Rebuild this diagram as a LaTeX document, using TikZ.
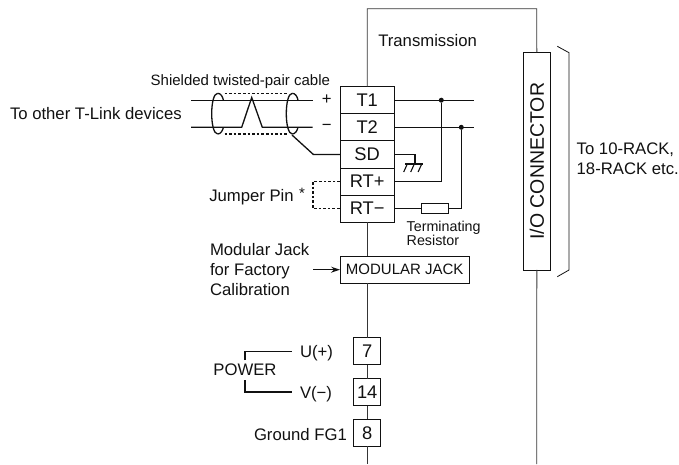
\documentclass[tikz,border=0pt]{standalone}
\usepackage{fontspec}
\setmainfont{Liberation Sans}
\usetikzlibrary{arrows.meta}
\newcommand{\fs}[2]{\fontsize{#1}{#2}\selectfont}
\definecolor{ink}{HTML}{111111}
\tikzset{
  lab/.style={inner sep=0pt,outer sep=0pt,text=ink,font=\fs{16.7}{20}},
  smalllab/.style={lab,font=\fs{14.3}{14}},
  cablelab/.style={lab,font=\fs{15}{18}},
  term/.style={draw=ink,fill=white,line width=0.9pt,inner sep=0pt,outer sep=0pt,
    minimum width=54.3pt,minimum height=27.1pt,text=ink,font=\fs{18.3}{20}},
  pin/.style={term,minimum width=27pt,minimum height=27pt},
  frameline/.style={draw=ink!85,line width=0.9pt},
  wire/.style={draw=ink,line width=1.3pt},
  jumper/.style={draw=ink,line width=1.1pt,dash pattern=on 2.6pt off 2pt},
  junction/.style={circle,fill=ink,inner sep=0pt,minimum size=5pt},
}
\begin{document}
\begin{tikzpicture}[x=1pt,y=-1pt]
\useasboundingbox (0,0) rectangle (679,464);
% corner points
\coordinate (ftl) at (367.2,8.7);
\coordinate (ftr) at (536.7,8.7);
\coordinate (fbl) at (367.2,464);
\coordinate (fbr) at (536.7,464);
% terminal block
\node[term] (t1) at (367.2,100.2) {T1};
\node[term] (t2) at (367.2,127.3) {T2};
\node[term] (sd) at (367.2,154.4) {SD};
\node[term] (rtp) at (367.2,181.5) {RT+};
\node[term] (rtm) at (367.2,208.6) {RT−};
\node[term,minimum width=129.3pt,minimum height=26.7pt,font=\fs{15}{18}] (jack) at (404.7,269.7) {MODULAR JACK};
\node[pin] (seven) at (367.2,351.2) {7};
\node[pin] (fourteen) at (367.2,392.1) {14};
\node[pin] (eight) at (367.2,432.7) {8};
\node[term,minimum width=27pt,minimum height=217.5pt,font=\fs{19.5}{22}] (io) at (536.8,161.2) {\rotatebox{90}{I/O CONNECTOR}};
% frame
\draw[frameline] (t1.north) -- (ftl) -- (ftr) -- (io.north);
\draw[frameline] (io.south) -- (fbr);
\draw[frameline] (rtm.south) -- (rtm.south |- jack.north);
\draw[frameline] (rtm.south |- jack.south) -- (seven.north);
\draw[frameline] (seven.south) -- (fourteen.north);
\draw[frameline] (fourteen.south) -- (eight.north);
\draw[frameline] (eight.south) -- (fbl);
% bracket
\coordinate (ba) at (557.3,46.3);
\coordinate (bb) at (569,52.7);
\coordinate (bc) at (569,270);
\coordinate (bd) at (557.3,276.7);
\draw[draw=ink,line width=0.8pt] (ba) -- (bb) -- (bc) -- (bd);
% labels
\node[lab,anchor=west] (trans) at (378.3,40.3) {Transmission};
\node[cablelab,anchor=west] (cable) at (150.7,81.5) {Shielded twisted-pair cable};
\node[lab,anchor=west] (other) at (10,113.5) {To other T-Link devices};
\node[lab,anchor=west] (jp) at (209.3,196.7) {Jumper Pin};
\node[lab,font=\fs{15}{16}] (star) at (302,193) {*};
\node[smalllab,anchor=north west,align=left] (res) at (406.7,221.5) {Terminating\\Resistor};
\node[lab,anchor=west,align=left] (mj) at (210,269.5) {Modular Jack\\for Factory\\Calibration};
\node[lab,anchor=west,align=left] (rack) at (576.7,158.5) {To 10-RACK,\\18-RACK etc.};
\node[lab,anchor=west] (u) at (300,353) {U(+)};
\node[lab,anchor=west] (v) at (300,394) {V(−)};
\node[lab,anchor=west] (gnd) at (254,434.3) {Ground FG1};
\node[lab,anchor=center] (power) at (245,370) {POWER};
\node[lab] (plus) at (326.7,100) {+};
\node[lab] (minus) at (326.7,127) {−};
% cable wires
\coordinate (wl1) at (191,100.2);
\coordinate (wr1) at (312.7,100.2);
\coordinate (wl2) at (191,127.3);
\coordinate (wr2) at (312.7,127.3);
\coordinate (tw1) at (241.7,127.3);
\coordinate (tw2) at (251.7,97.5);
\coordinate (tw3) at (262.3,127.3);
\draw[wire] (wl1) -- (wr1);
\draw[wire] (wl2) -- (tw1) -- (tw2) -- (tw3) -- (wr2);
\foreach \cx in {217.7,292.3}{
  \draw[wire] (\cx,93.3) .. controls (\cx-8,93.3) and (\cx-8,134) .. (\cx,134);
  \draw[wire] (\cx,93.3) .. controls (\cx+3,93.3) and (\cx+5,96.5) .. (\cx+5.7,100.2);
  \draw[wire] (\cx,134) .. controls (\cx+3,134) and (\cx+5,130.5) .. (\cx+5.7,127.3);
}
\coordinate (sha) at (224.5,93.3);
\coordinate (shb) at (287.5,93.3);
\coordinate (shc) at (224.5,134);
\coordinate (shd) at (287.5,134);
\draw[jumper] (sha) -- (shb);
\draw[jumper] (shc) -- (shd);
% shield drain
\coordinate (dr0) at (292,135);
\coordinate (dr1) at (313.3,154.4);
\draw[wire] (dr0) -- (dr1) -- (sd.west);
% right side wiring
\coordinate (e1) at (473.7,100.2);
\coordinate (e2) at (473.7,127.3);
\node[junction] (j1) at (441.3,100.2) {};
\node[junction] (j2) at (461.3,127.3) {};
\draw[wire] (t1.east) -- (e1);
\draw[wire] (t2.east) -- (e2);
\draw[wire] (rtp.east) -| (j1);
\node[draw=ink,fill=white,line width=1.2pt,inner sep=0pt,minimum width=26.6pt,minimum height=9.5pt] (r) at (435,208.6) {};
\draw[wire] (rtm.east) -- (r.west);
\draw[wire] (r.east) -| (j2);
% ground
\coordinate (g0) at (415,164);
\coordinate (gl) at (405,164);
\coordinate (gr) at (422.7,164);
\draw[wire] (sd.east) -| (g0);
\draw[wire] (gl) -- (gr);
\foreach \tx in {407.3,414.3,421.7}{
  \draw[draw=ink,line width=1.1pt] (\tx,164) -- (\tx-3.6,172);
}
% jumper
\coordinate (ja) at (313,181.5);
\coordinate (jb) at (313,208.6);
\draw[jumper] (rtp.west) -- (ja) -- (jb) -- (rtm.west);
% modular jack arrow
\coordinate (as) at (313.3,269.7);
\draw[draw=ink,line width=1.2pt,-{Stealth[length=9pt,width=6pt]}] (as) -- (jack.west);
% power
\coordinate (pu1) at (245,360);
\coordinate (pu2) at (245,351.3);
\coordinate (pu3) at (292.3,351.3);
\coordinate (pv1) at (245,380);
\coordinate (pv2) at (245,392);
\coordinate (pv3) at (292.3,392);
\draw[wire] (pu1) -- (pu2) -- (pu3);
\draw[wire] (pv1) -- (pv2) -- (pv3);
\end{tikzpicture}
\end{document}
